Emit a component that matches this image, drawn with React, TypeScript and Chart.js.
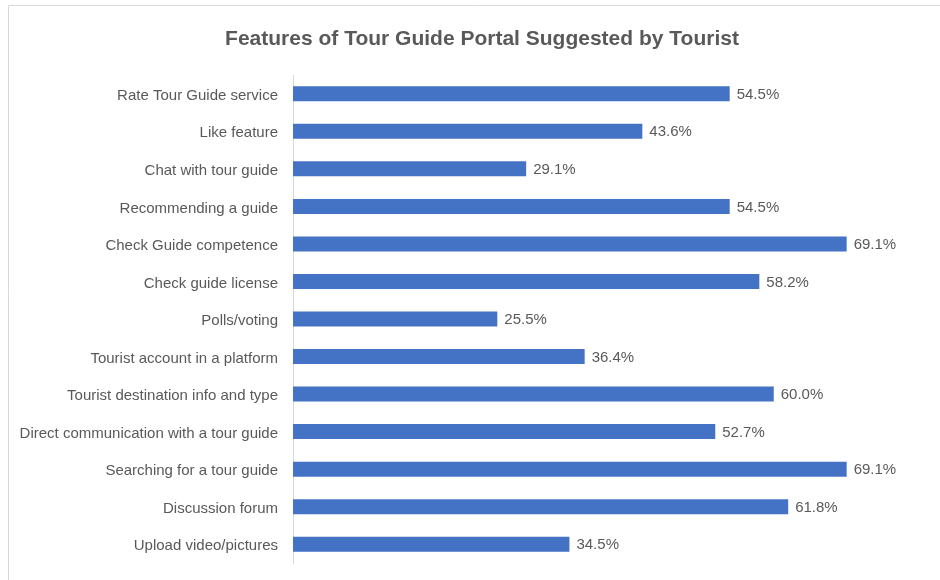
import React, { useEffect, useRef } from "react";
import { Chart, registerables } from "chart.js";

Chart.register(...registerables);

const title = "Features of Tour Guide Portal Suggested by Tourist";
const categories = [
  "Rate Tour Guide service",
  "Like feature",
  "Chat with tour guide",
  "Recommending a guide",
  "Check Guide competence",
  "Check guide license",
  "Polls/voting",
  "Tourist account in a platform",
  "Tourist destination info and type",
  "Direct communication with a tour guide",
  "Searching for a tour guide",
  "Discussion forum",
  "Upload video/pictures",
];
const values = [54.5, 43.6, 29.1, 54.5, 69.1, 58.2, 25.5, 36.4, 60.0, 52.7, 69.1, 61.8, 34.5];

const FONT = "'Liberation Sans', Arial, sans-serif";
const TEXT = "#595959";

const decorPlugin = {
  id: "decor",
  beforeDraw(chart: any) {
    const ctx = chart.ctx;
    ctx.save();
    ctx.fillStyle = "#ffffff";
    ctx.fillRect(0, 0, chart.width, chart.height);
    ctx.strokeStyle = "#d9d9d9";
    ctx.lineWidth = 1;
    ctx.beginPath();
    ctx.moveTo(8.5, chart.height);
    ctx.lineTo(8.5, 5.5);
    ctx.lineTo(chart.width, 5.5);
    ctx.stroke();
    ctx.fillStyle = TEXT;
    ctx.font = `bold 21px ${FONT}`;
    ctx.textAlign = "center";
    ctx.textBaseline = "middle";
    ctx.fillText(title, 482, 39);
    ctx.restore();
  },
  afterDatasetsDraw(chart: any) {
    const ctx = chart.ctx;
    const meta = chart.getDatasetMeta(0);
    ctx.save();
    ctx.fillStyle = TEXT;
    ctx.font = `15px ${FONT}`;
    ctx.textAlign = "left";
    ctx.textBaseline = "middle";
    meta.data.forEach((bar: any, i: number) => {
      ctx.fillText(values[i].toFixed(1) + "%", bar.x + 7, bar.y + 1);
    });
    ctx.restore();
  },
};

export default function App() {
  const ref = useRef<HTMLCanvasElement | null>(null);
  useEffect(() => {
    if (!ref.current) return;
    const chart = new Chart(ref.current, {
      type: "bar",
      data: {
        labels: categories,
        datasets: [
          {
            data: values,
            backgroundColor: "#4472C4",
            borderWidth: 0,
            categoryPercentage: 1,
            barPercentage: 0.4,
          },
        ],
      },
      options: {
        indexAxis: "y",
        responsive: false,
        maintainAspectRatio: false,
        animation: false,
        layout: { padding: { top: 75, right: 6, bottom: 17, left: 0 } },
        plugins: {
          legend: { display: false },
          title: { display: false },
          tooltip: { enabled: false },
        },
        scales: {
          x: { display: false, min: 0, max: 80 },
          y: {
            grid: { display: false, drawTicks: false },
            border: { display: true, color: "#d9d9d9", width: 1 },
            ticks: {
              color: TEXT,
              font: { family: FONT, size: 15 },
              padding: 15,
              labelOffset: 2,
            },
            afterFit(scale: any) {
              scale.width = 293;
              scale.paddingTop = 0;
              scale.paddingBottom = 0;
            },
          },
        },
      },
      plugins: [decorPlugin],
    });
    return () => chart.destroy();
  }, []);
  return (
    <div style={{ position: "absolute", left: 0, top: 0, width: 940, height: 580, background: "#fff" }}>
      <canvas ref={ref} width={940} height={580} style={{ display: "block", width: 940, height: 580 }} />
    </div>
  );
}
